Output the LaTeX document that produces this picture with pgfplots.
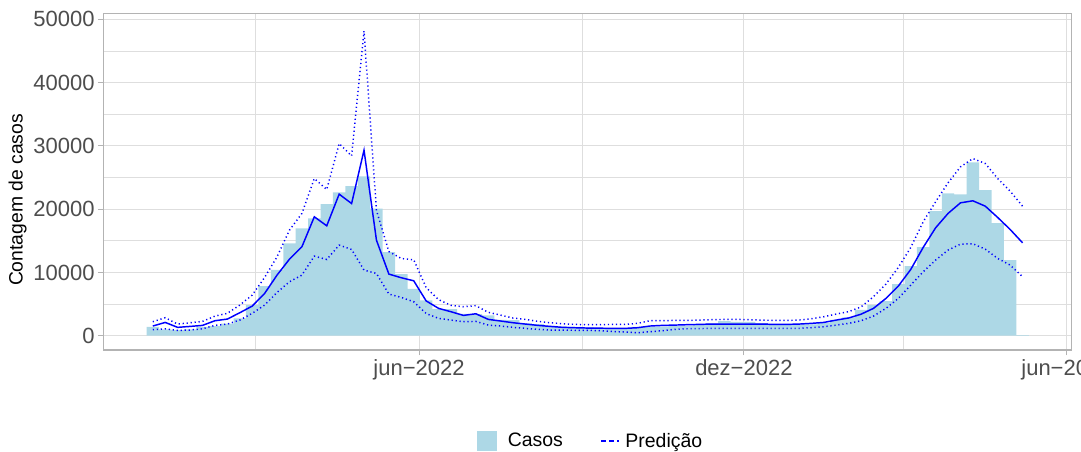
\documentclass[border=0pt]{standalone}
\usepackage{fontspec}
\setmainfont{Liberation Sans}
\usepackage{pgfplots}
\usepackage{pgfplotstable}
\pgfplotsset{compat=1.18}
\definecolor{barblue}{HTML}{ADD8E6}
\definecolor{gridc}{HTML}{DEDEDE}
\definecolor{borderc}{HTML}{B3B3B3}
\definecolor{tickc}{HTML}{4D4D4D}
\pgfplotstableread{
x casos pred upper lower
1 1400 1530 2210 950
8 1000 2100 2840 1100
15 900 1320 1840 840
22 1000 1470 2050 900
29 1400 1630 2260 1100
36 1500 2370 3100 1630
43 1900 2630 3530 1840
50 2750 3630 4840 2470
57 4850 4680 6420 3530
64 7850 6680 9210 4840
71 10400 9580 12470 6840
78 14600 12100 16680 8530
85 16950 14050 19320 9580
92 18550 18790 24840 12580
99 20800 17370 23100 12050
106 22650 22370 30370 14320
113 23650 20890 28420 13630
120 25200 29320 48160 10370
127 20100 15100 19800 9840
134 13200 9740 13300 6580
141 9750 9160 12200 6050
148 7400 8680 12000 5370
155 5600 5500 7600 3500
162 4200 4320 5700 2740
169 4200 3790 4800 2470
176 3450 3210 4580 2210
183 3400 3470 4750 2260
190 3200 2580 3700 1680
197 2500 2320 3250 1530
204 2450 2050 2790 1320
211 1950 1840 2580 1160
218 1850 1630 2260 1000
225 1550 1470 2050 900
232 1450 1320 1890 900
239 1400 1260 1790 850
246 1300 1210 1740 840
253 1250 1190 1740 800
260 1150 1160 1790 680
267 1150 1160 1790 580
274 1400 1260 1950 470
281 1400 1530 2370 630
288 1450 1630 2370 790
295 1500 1680 2420 1000
302 1550 1740 2420 1100
309 1700 1790 2470 1130
316 1950 1840 2530 1160
323 2300 1840 2580 1160
330 2200 1840 2580 1160
337 2200 1840 2530 1160
344 2000 1840 2470 1160
351 1800 1790 2420 1160
358 1800 1790 2420 1160
365 1800 1840 2470 1160
372 1800 1950 2680 1260
379 2000 2100 3000 1420
386 2500 2470 3420 1680
393 2900 2800 3800 1950
400 4100 3400 4550 2370
407 4850 4320 6160 3100
414 5450 5890 8160 4320
421 8150 7840 10790 5890
428 11000 10470 13950 8000
435 14000 13950 18000 10100
442 19700 17050 21160 11950
449 22500 19320 24160 13530
456 22350 21000 26680 14470
463 27400 21320 28000 14530
470 23000 20470 27210 13680
477 17800 18680 24840 12210
484 11950 16790 22840 11160
491 100 14680 20470 9320
}\data
\begin{document}
\begin{tikzpicture}
\path[use as bounding box] (0,0) rectangle (810.75pt,338.25pt);
\begin{axis}[
  at={(77.5pt,75.75pt)}, anchor=south west,
  scale only axis, width=726.3pt, height=252.5pt,
  xmin=-26.86, xmax=518.7, ymin=-2258, ymax=50947,
  axis line style={draw=borderc, line width=0.8pt},
  xtick={151,334,516}, xticklabels={jun−2022,dez−2022,jun−2023},
  minor xtick={59,243,424},
  ytick={0,10000,20000,30000,40000,50000},
  minor ytick={5000,15000,25000,35000,45000},
  grid=both,
  major grid style={draw=gridc, line width=0.8pt},
  minor grid style={draw=gridc, line width=0.6pt},
  tick align=outside, major tick length=4pt, minor tick length=0pt,
  tick style={draw=borderc, line width=0.8pt},
  xtick pos=bottom, ytick pos=left,
  ticklabel style={font=\fontsize{16.5}{19}\selectfont, text=tickc},
  yticklabel style={xshift=1pt},
  /pgf/number format/1000 sep={},
  /pgf/number format/assume math mode=true,
  scaled y ticks=false,
  ylabel={Contagem de casos},
  ylabel style={font=\fontsize{14.5}{16}\selectfont, at={(axis description cs:-0.0788,0.4455)}, anchor=south, inner sep=0pt},
  legend style={at={(axis description cs:0.5036,-0.2703)}, anchor=center, draw=none, fill=none, font=\fontsize{14.6}{17}\selectfont, legend columns=2,
    /tikz/every even column/.append style={column sep=26pt},
    /tikz/every odd column/.append style={column sep=2.25pt}},
  legend cell align=left,
]
\addplot[ybar, bar width=7, fill=barblue, draw=none,
  legend image code/.code={\fill[barblue] (0pt,-7.5pt) rectangle (15pt,7.5pt); \path (18.75pt,0pt);}]
  table[x=x,y=casos]{\data};
\addlegendentry{Casos}
\addplot[blue, line width=1.1pt,
  legend image code/.code={\draw[blue, line width=1.1pt, dash pattern=on 4pt off 2pt] (0pt,0pt) -- (13.5pt,0pt);}]
  table[x=x,y=pred]{\data};
\addlegendentry{Predição}
\addplot[blue, line width=1.1pt, dash pattern=on 0.9pt off 2.1pt, forget plot] table[x=x,y=upper]{\data};
\addplot[blue, line width=1.1pt, dash pattern=on 0.9pt off 2.1pt, forget plot] table[x=x,y=lower]{\data};
\end{axis}
\end{tikzpicture}
\end{document}
